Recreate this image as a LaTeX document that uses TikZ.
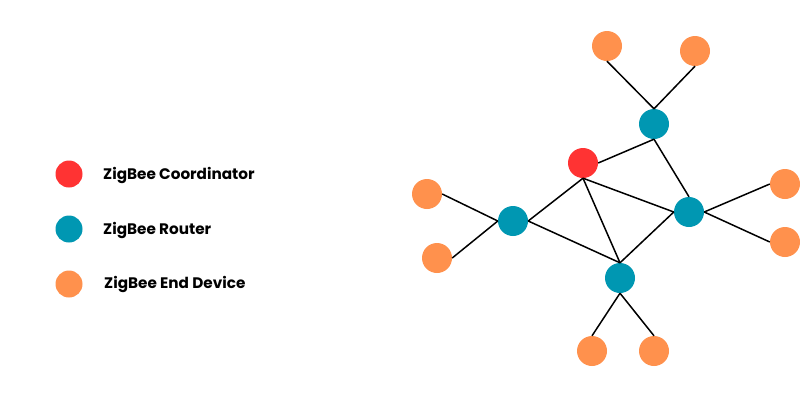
\documentclass[tikz,border=0pt]{standalone}
\usepackage{fontspec}
\setmainfont{Poppins}
\definecolor{coordred}{HTML}{FF3333}
\definecolor{routerteal}{HTML}{0097B2}
\definecolor{endorange}{HTML}{FF914D}
\begin{document}
\begin{tikzpicture}[x=1bp,y=-1bp,
  dev/.style={circle,inner sep=0pt,minimum size=30bp,draw=none},
  coord/.style={dev,fill=coordred},
  router/.style={dev,fill=routerteal},
  enddev/.style={dev,fill=endorange},
  legdot/.style={circle,inner sep=0pt,minimum size=27bp,draw=none},
  legtext/.style={anchor=west,inner sep=0pt,font=\fontsize{15.3}{17}\selectfont\bfseries},
  link/.style={draw=black,line width=1.5bp}]
\useasboundingbox[fill=white] (0,0) rectangle (800,400);
% legend
\node[legdot,fill=coordred] (lc) at (69,174) {};
\node[legdot,fill=routerteal] (lr) at (69,229) {};
\node[legdot,fill=endorange] (le) at (69,284) {};
\node[legtext] (tc) at (103,175) {ZigBee Coordinator};
\node[legtext] (tr) at (103,230) {ZigBee Router};
\node[legtext] (te) at (104,284) {ZigBee End Device};
% network
\node[coord] (c) at (583,163) {};
\node[router] (rt) at (654,124) {};
\node[router] (rl) at (513,221) {};
\node[router] (rr) at (689,212) {};
\node[router] (rb) at (620,278) {};
\node[enddev] (e1) at (607,46) {};
\node[enddev] (e2) at (695,51) {};
\node[enddev] (e3) at (427,194) {};
\node[enddev] (e4) at (437,258) {};
\node[enddev] (e5) at (785,184) {};
\node[enddev] (e6) at (785,242) {};
\node[enddev] (e7) at (592,351) {};
\node[enddev] (e8) at (654,351) {};
% links
\path[link] (rt.north) -- (e1.south);
\path[link] (rt.north) -- (e2.south);
\path[link] (c.east) -- (rt.south);
\path[link] (rt.south) -- (rr.north);
\path[link] (c.south) -- (rl.east);
\path[link] (c.south) -- (rr.west);
\path[link] (c.south) -- (rb.north);
\path[link] (rl.east) -- (rb.north);
\path[link] (rr.west) -- (rb.north);
\path[link] (rl.west) -- (e3.east);
\path[link] (rl.west) -- (e4.east);
\path[link] (rr.east) -- (e5.west);
\path[link] (rr.east) -- (e6.west);
\path[link] (rb.south) -- (e7.north);
\path[link] (rb.south) -- (e8.north);
\end{tikzpicture}
\end{document}
